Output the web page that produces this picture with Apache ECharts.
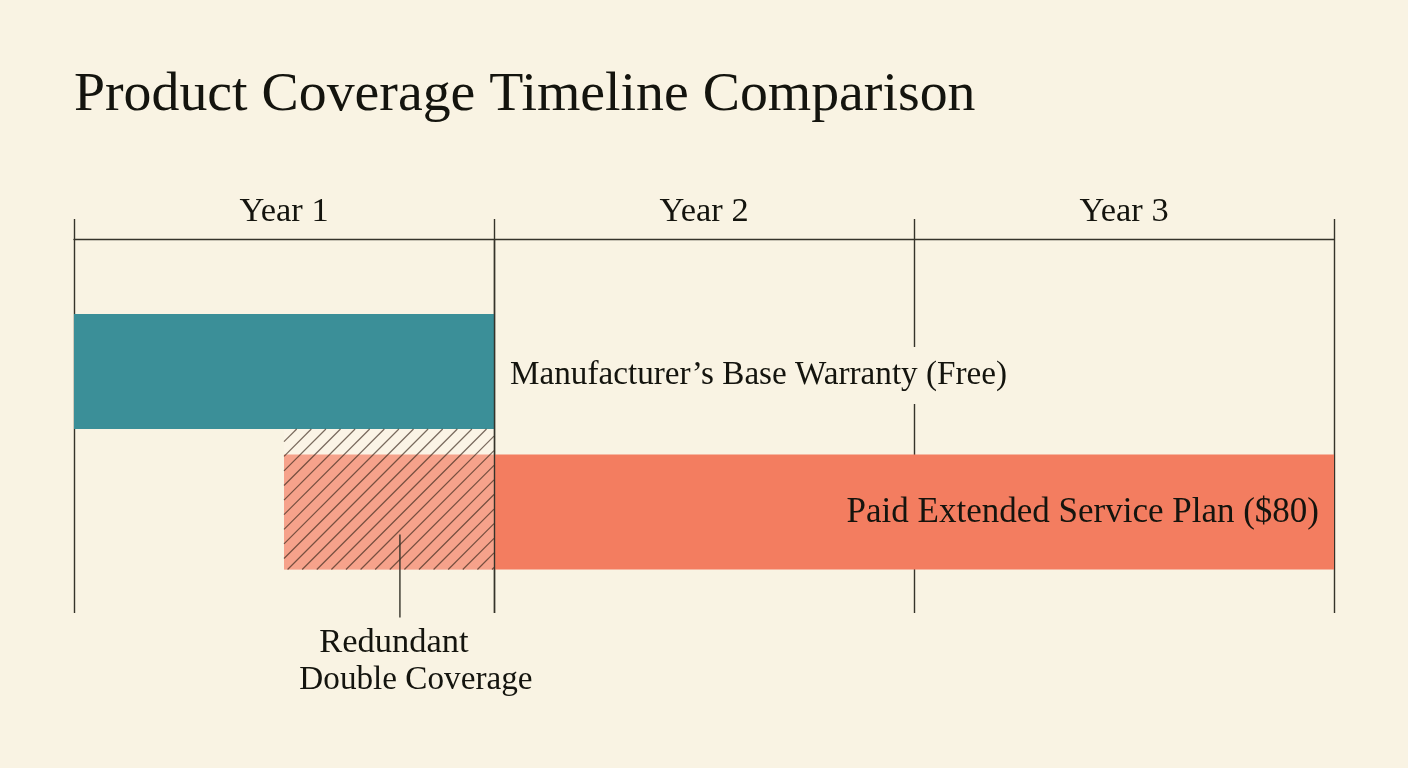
<!DOCTYPE html>
<html>
<head>
<meta charset="utf-8">
<title>Product Coverage Timeline Comparison</title>
<script src="https://cdn.jsdelivr.net/npm/echarts@6/dist/echarts.min.js"></script>
<style>
  html, body { margin: 0; padding: 0; background: #f9f3e3; }
  #chart { width: 1408px; height: 768px; }
</style>
</head>
<body>
<div id="chart"></div>
<script>
const titleText = 'Product Coverage Timeline Comparison';
const yearLabels = ['Year 1', 'Year 2', 'Year 3'];
const monthsPerYear = 12;

// coverage plans, in months from purchase
const planNames = ['Manufacturer\u2019s Base Warranty (Free)', 'Paid Extended Service Plan ($80)'];
const planStart = [0, 6];
const planEnd = [12, 36];
const planRow = [0, 1];
const planColors = ['#3b8f98', '#f37d60'];

const overlapLabels = ['Redundant', 'Double Coverage'];

const SERIF = '"Liberation Serif", serif';
const INK = '#14140e';
const LINE = '#35332a';
const barFraction = 115 / 140.5;

const chart = echarts.init(document.getElementById('chart'), null, { renderer: 'canvas' });

// diagonal hatch, worked out in pixels and cut to the rectangle
function hatchLines(x, y, w, h) {
    const step = 14.6;
    const lines = [];
    for (let c = x + y + 12.7; c < x + y + w + h; c += step) {
        const x1 = Math.max(x, c - (y + h));
        const x2 = Math.min(x + w, c - y);
        if (x2 <= x1) continue;
        lines.push({
            type: 'line',
            shape: { x1: x1, y1: c - x1, x2: x2, y2: c - x2 },
            style: { stroke: 'rgba(58,38,26,0.68)', lineWidth: 1.2 },
            silent: true
        });
    }
    return lines;
}

function renderPlan(params, api) {
    const i = params.dataIndex;
    const row = api.value(2);
    const bandH = api.size([0, 1])[1];
    const h = bandH * barFraction;
    const a = api.coord([api.value(0), row]);
    const b = api.coord([api.value(1), row]);
    const insideLabel = i === 1;
    return {
        type: 'group',
        children: [
            {
                type: 'rect',
                shape: { x: a[0], y: a[1] - h / 2, width: b[0] - a[0], height: h },
                style: { fill: planColors[i] }
            },
            {
                type: 'text',
                z2: 50,
                style: {
                    text: planNames[i],
                    x: insideLabel ? b[0] - 15 : b[0] + 16,
                    y: a[1] + (insideLabel ? 1 : 4),
                    align: insideLabel ? 'right' : 'left',
                    verticalAlign: 'middle',
                    font: (insideLabel ? '35px ' : '33.2px ') + SERIF,
                    fill: INK,
                    backgroundColor: insideLabel ? 'transparent' : '#f9f3e3',
                    padding: insideLabel ? 0 : [12, 0]
                }
            }
        ]
    };
}

function renderOverlap(params, api) {
    const bandH = api.size([0, 1])[1];
    const h = bandH * barFraction;
    const row0 = planRow[0];
    const row1 = planRow[1];
    const left = api.coord([api.value(0), row0]);
    const right = api.coord([api.value(1), row1]);
    const top = left[1] + h / 2;
    const bottom = right[1] + h / 2;
    const leaderX = left[0] + (right[0] - left[0]) * 0.552;
    return {
        type: 'group',
        children: [
            {
                type: 'rect',
                shape: { x: left[0], y: top, width: right[0] - left[0], height: bottom - top },
                style: { fill: 'rgba(255,250,240,0.3)' }
            }
        ].concat(hatchLines(left[0], top, right[0] - left[0], bottom - top)).concat([
            {
                type: 'line',
                shape: { x1: leaderX, y1: bottom - 35, x2: leaderX, y2: bottom + 48 },
                style: { stroke: LINE, lineWidth: 1.4 }
            },
            {
                type: 'text',
                style: {
                    text: overlapLabels[0], x: leaderX - 6, y: bottom + 73,
                    align: 'center', verticalAlign: 'middle',
                    font: '34.5px ' + SERIF, fill: INK
                }
            },
            {
                type: 'text',
                style: {
                    text: overlapLabels[1], x: leaderX + 16, y: bottom + 111,
                    align: 'center', verticalAlign: 'middle',
                    font: '33.2px ' + SERIF, fill: INK
                }
            }
        ])
    };
}

const planData = planStart.map((s, i) => [s, planEnd[i], planRow[i]]);
const overlapData = [[Math.max(...planStart), Math.min(...planEnd)]];

const option = {
    backgroundColor: '#f9f3e3',
    animation: false,
    title: {
        text: titleText,
        left: 74,
        top: 67,
        padding: 0,
        textStyle: { fontFamily: SERIF, fontWeight: 'normal', fontSize: 55.8, color: INK }
    },
    grid: { left: 74, right: 74, top: 239, bottom: 155, containLabel: false },
    xAxis: [
        {
            type: 'category',
            position: 'top',
            data: yearLabels,
            boundaryGap: true,
            axisLine: { show: true, onZero: false, lineStyle: { color: LINE, width: 1.4 } },
            axisTick: { show: true, length: 20, interval: 0, lineStyle: { color: LINE, width: 1.4 } },
            axisLabel: { margin: 10, fontFamily: SERIF, fontSize: 34.4, color: INK },
            splitLine: { show: true, interval: 0, lineStyle: { color: LINE, width: 1.4 } }
        },
        { type: 'value', min: 0, max: yearLabels.length * monthsPerYear, show: false }
    ],
    // row 0 centre sits at y=371.5, row 1 at y=512
    yAxis: { type: 'value', inverse: true, min: -0.9431, max: 1.7189, show: false },
    series: [
        {
            type: 'custom',
            name: 'Coverage',
            xAxisIndex: 1,
            clip: false,
            z: 3,
            renderItem: renderPlan,
            encode: { x: [0, 1], y: 2 },
            data: planData
        },
        {
            type: 'custom',
            name: 'Overlap',
            xAxisIndex: 1,
            clip: false,
            z: 4,
            renderItem: renderOverlap,
            encode: { x: [0, 1] },
            data: overlapData,
            // end of Year 1 stays on top of the bars
            markLine: {
                silent: true,
                symbol: 'none',
                label: { show: false },
                lineStyle: { color: LINE, width: 1.4, type: 'solid' },
                data: [{ xAxis: monthsPerYear }]
            }
        }
    ]
};

chart.setOption(option);
</script>
</body>
</html>
